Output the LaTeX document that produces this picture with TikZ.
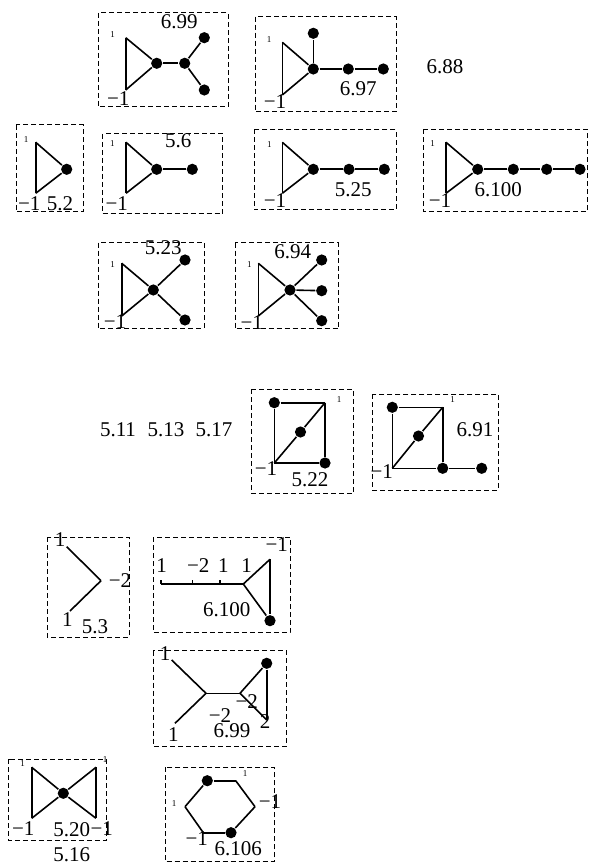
\documentclass[tikz,border=0pt]{standalone}
\usepackage{fontspec}
\setmainfont{Liberation Serif}
\usepackage{tikz}

\begin{document}
\begin{tikzpicture}[x=0.5pt, y=-0.5pt, line width=0.8pt,
      dot/.style={circle, fill, inner sep=0pt, minimum size=5.6pt},
      lbl/.style={inner sep=0pt, font=\fontsize{10.5}{12}\selectfont},
      sml/.style={inner sep=0pt, font=\fontsize{4.5}{5}\selectfont},
      frame/.style={line width=0.5pt, dash pattern=on 2.5pt off 1.5pt}]
      \useasboundingbox (0,0) rectangle (589,865);

      \draw[frame] (98,13) rectangle (228,107);
      \coordinate (a1) at (125.7,37.7);
      \coordinate (a2) at (125.7,90);
      \node[dot] (a3) at (156.7,63.3) {};
      \node[dot] (a4) at (184.7,63.3) {};
      \node[dot] (a5) at (204.3,37.7) {};
      \node[dot] (a6) at (204.3,90) {};
      \node[sml] at (112.7,34.3) {1};
      \node[lbl] at (118.3,98.3) {−1};
      \node[lbl] at (179.3,21.7) {6.99};
      \draw[-] (a1) to (a2);
      \draw[-] (a1) to (a3);
      \draw[-] (a2) to (a3);
      \draw[-] (a3) to (a4);
      \draw[-] (a4) to (a5);
      \draw[-] (a4) to (a6);

      \draw[frame] (255,16.7) rectangle (396,111.7);
      \coordinate (b1) at (282.3,42.3);
      \coordinate (b2) at (282.3,95);
      \node[dot] (b3) at (313.3,69) {};
      \node[dot] (b4) at (313.3,33.3) {};
      \node[dot] (b5) at (348.3,69) {};
      \node[dot] (b6) at (383.3,69) {};
      \node[sml] at (269,39.3) {1};
      \node[lbl] at (275,101.7) {−1};
      \node[lbl] at (358.3,88.3) {6.97};
      \draw[-] (b1) to (b2);
      \draw[-] (b1) to (b3);
      \draw[-] (b2) to (b3);
      \draw[-] (b3) to (b4);
      \draw[-] (b3) to (b5);
      \draw[-] (b5) to (b6);

      \node[lbl] at (445,66.7) {6.88};

      \draw[frame] (16,125) rectangle (83,212);
      \coordinate (c1) at (35.7,142.3);
      \coordinate (c2) at (35.7,193.3);
      \node[dot] (c3) at (66.7,169.3) {};
      \node[sml] at (26,140) {1};
      \node[lbl] at (29.3,203.3) {−1};
      \node[lbl] at (60,203.3) {5.2};
      \draw[-] (c1) to (c2);
      \draw[-] (c1) to (c3);
      \draw[-] (c2) to (c3);

      \draw[frame] (102.7,134) rectangle (222.7,214);
      \coordinate (d1) at (126,142.3);
      \coordinate (d2) at (126,193.3);
      \node[dot] (d3) at (156.7,169.3) {};
      \node[dot] (d4) at (192.3,169.3) {};
      \node[sml] at (112.3,143.3) {1};
      \node[lbl] at (116.7,203.3) {−1};
      \node[lbl] at (178.3,141) {5.6};
      \draw[-] (d1) to (d2);
      \draw[-] (d1) to (d3);
      \draw[-] (d2) to (d3);
      \draw[-] (d3) to (d4);

      \draw[frame] (254,129.3) rectangle (396,210);
      \coordinate (e1) at (282.3,142.3);
      \coordinate (e2) at (282.3,193.3);
      \node[dot] (e3) at (313.3,169.3) {};
      \node[dot] (e4) at (349,169.3) {};
      \node[dot] (e5) at (384.3,169.3) {};
      \node[sml] at (269.3,144.3) {1};
      \node[lbl] at (275,201) {−1};
      \node[lbl] at (353.3,190) {5.25};
      \draw[-] (e1) to (e2);
      \draw[-] (e1) to (e3);
      \draw[-] (e2) to (e3);
      \draw[-] (e3) to (e4);
      \draw[-] (e4) to (e5);

      \draw[frame] (423.5,129.3) rectangle (587,212);
      \coordinate (f1) at (446,142.3);
      \coordinate (f2) at (446,193.3);
      \node[dot] (f3) at (477.7,169.3) {};
      \node[dot] (f4) at (513.3,169.3) {};
      \node[dot] (f5) at (546.7,169.3) {};
      \node[dot] (f6) at (580,169.3) {};
      \node[sml] at (432.7,143.3) {1};
      \node[lbl] at (440,201) {−1};
      \node[lbl] at (498.3,190) {6.100};
      \draw[-] (f1) to (f2);
      \draw[-] (f1) to (f3);
      \draw[-] (f2) to (f3);
      \draw[-] (f3) to (f4);
      \draw[-] (f4) to (f5);
      \draw[-] (f5) to (f6);

      \draw[frame] (98,242.7) rectangle (204.3,328.3);
      \coordinate (g1) at (121.7,263.3);
      \coordinate (g2) at (121.7,316);
      \node[dot] (g3) at (153.3,290) {};
      \node[dot] (g4) at (185,260) {};
      \node[dot] (g5) at (185,320) {};
      \node[sml] at (112.7,264.3) {1};
      \node[lbl] at (115,321.7) {−1};
      \node[lbl] at (163.3,247.3) {5.23};
      \draw[-] (g1) to (g2);
      \draw[-] (g1) to (g3);
      \draw[-] (g2) to (g3);
      \draw[-] (g3) to (g4);
      \draw[-] (g3) to (g5);

      \draw[frame] (235,242.7) rectangle (338.3,329);
      \coordinate (h1) at (258.3,263.3);
      \coordinate (h2) at (258.3,316);
      \node[dot] (h3) at (290,290) {};
      \node[dot] (h4) at (321.7,260) {};
      \node[dot] (h5) at (321.7,290.7) {};
      \node[dot] (h6) at (321.7,320.7) {};
      \node[sml] at (249.3,264.3) {1};
      \node[lbl] at (251.7,322.7) {−1};
      \node[lbl] at (292.7,251.7) {6.94};
      \draw[-] (h1) to (h2);
      \draw[-] (h1) to (h3);
      \draw[-] (h2) to (h3);
      \draw[-] (h3) to (h4);
      \draw[-] (h3) to (h5);
      \draw[-] (h3) to (h6);

      \node[lbl] at (118,430) {5.11};
      \node[lbl] at (166,430) {5.13};
      \node[lbl] at (214,430) {5.17};

      \draw[frame] (251,389.3) rectangle (353.3,493.3);
      \node[dot] (i1) at (274.3,402.7) {};
      \coordinate (i2) at (325,402.7);
      \coordinate (i3) at (274.3,463);
      \node[dot] (i4) at (325,463) {};
      \node[dot] (i5) at (300.5,432) {};
      \node[sml] at (339,399.3) {1};
      \node[lbl] at (266,468.3) {−1};
      \node[lbl] at (310,480) {5.22};
      \draw[-] (i1) to (i2);
      \draw[-] (i1) to (i3);
      \draw[-] (i2) to (i4);
      \draw[-] (i3) to (i4);
      \draw[-] (i3) to (i5);
      \draw[-] (i5) to (i2);

      \draw[frame] (372.3,394) rectangle (498.3,490);
      \node[dot] (k1) at (392.3,407.3) {};
      \coordinate (k2) at (442.7,407.3);
      \coordinate (k3) at (392.3,468.3);
      \node[dot] (k4) at (442.7,468.3) {};
      \node[dot] (k5) at (418.5,436) {};
      \node[dot] (k6) at (481.7,468.3) {};
      \node[sml] at (452.7,399.3) {1};
      \node[lbl] at (381.7,471.7) {−1};
      \node[lbl] at (475,430) {6.91};
      \draw[-] (k1) to (k2);
      \draw[-] (k1) to (k3);
      \draw[-] (k2) to (k4);
      \draw[-] (k3) to (k4);
      \draw[-] (k3) to (k5);
      \draw[-] (k5) to (k2);
      \draw[-] (k4) to (k6);

      \draw[frame] (47.3,537.3) rectangle (129.3,637.3);
      \coordinate (l1) at (66.7,546.7);
      \coordinate (l2) at (101,580.7);
      \coordinate (l3) at (70,611);
      \node[lbl] at (60,540) {1};
      \node[lbl] at (120,580.7) {−2};
      \node[lbl] at (67.3,620) {1};
      \node[lbl] at (95,626.7) {5.3};
      \draw[-] (l1) to (l2);
      \draw[-] (l2) to (l3);

      \draw[frame] (153.3,537.3) rectangle (290,632.7);
      \coordinate (m1) at (161,584);
      \coordinate (m2) at (192.3,584);
      \coordinate (m3) at (220,584);
      \coordinate (m4) at (243.3,584);
      \coordinate (m5) at (270,559.3);
      \node[dot] (m6) at (270,620.7) {};
      \node[lbl] at (161.7,566) {1};
      \node[lbl] at (198.3,566) {−2};
      \node[lbl] at (223.3,566) {1};
      \node[lbl] at (246.7,566) {1};
      \node[lbl] at (276.7,545) {−1};
      \node[lbl] at (226.7,609.3) {6.100};
      \draw[-] (m1) to (m4);
      \draw[-] (m1) -- ++(0,-4);
      \draw[-] (m2) -- ++(0,-4);
      \draw[-] (m3) -- ++(0,-4);
      \draw[-] (m4) to (m5);
      \draw[-] (m5) to (m6);
      \draw[-] (m4) to (m6);

      \draw[frame] (153.3,650.7) rectangle (286.7,746);
      \coordinate (n1) at (171.7,660);
      \coordinate (n2) at (175,723.3);
      \coordinate (n3) at (206,693.3);
      \coordinate (n4) at (240,693.3);
      \node[dot] (n5) at (266.7,663.3) {};
      \coordinate (n6) at (266.7,720);
      \node[lbl] at (165,653.3) {1};
      \node[lbl] at (173.3,735) {1};
      \node[lbl] at (220,716) {−2};
      \node[lbl] at (246.7,701.7) {−2};
      \node[lbl] at (265,721.7) {2};
      \node[lbl] at (232,731) {6.99};
      \draw[-] (n1) to (n3);
      \draw[-] (n2) to (n3);
      \draw[-] (n3) to (n4);
      \draw[-] (n4) to (n5);
      \draw[-] (n5) to (n6);
      \draw[-] (n4) to (n6);

      \draw[frame] (8.3,759.3) rectangle (106,840.7);
      \coordinate (o1) at (31.7,767.3);
      \coordinate (o2) at (31.7,818.3);
      \node[dot] (o3) at (63.3,793.3) {};
      \coordinate (o4) at (96,767.3);
      \coordinate (o5) at (96,818.3);
      \node[sml] at (22.7,764) {1};
      \node[sml] at (105,760) {1};
      \node[lbl] at (23.3,828.3) {−1};
      \node[lbl] at (71.7,830) {5.20};
      \node[lbl] at (101.7,828.3) {−1};
      \node[lbl] at (71.7,855) {5.16};
      \draw[-] (o1) to (o2);
      \draw[-] (o4) to (o5);
      \draw[-] (o1) to (o3);
      \draw[-] (o3) to (o5);
      \draw[-] (o2) to (o3);
      \draw[-] (o3) to (o4);

      \draw[frame] (165,767.3) rectangle (274.3,861.7);
      \node[dot] (p1) at (207.3,780.7) {};
      \coordinate (p2) at (235.7,780.7);
      \coordinate (p3) at (255,806.7);
      \node[dot] (p4) at (231,832.7) {};
      \coordinate (p5) at (203.3,832.7);
      \coordinate (p6) at (185,806.7);
      \node[sml] at (245,773.3) {1};
      \node[lbl] at (270,801.7) {−1};
      \node[sml] at (174,803.3) {1};
      \node[lbl] at (196.7,838.3) {−1};
      \node[lbl] at (238.3,848.3) {6.106};
      \draw[-] (p1) to (p2);
      \draw[-] (p2) to (p3);
      \draw[-] (p3) to (p4);
      \draw[-] (p4) to (p5);
      \draw[-] (p5) to (p6);
      \draw[-] (p6) to (p1);
      \end{tikzpicture}
\end{document}
